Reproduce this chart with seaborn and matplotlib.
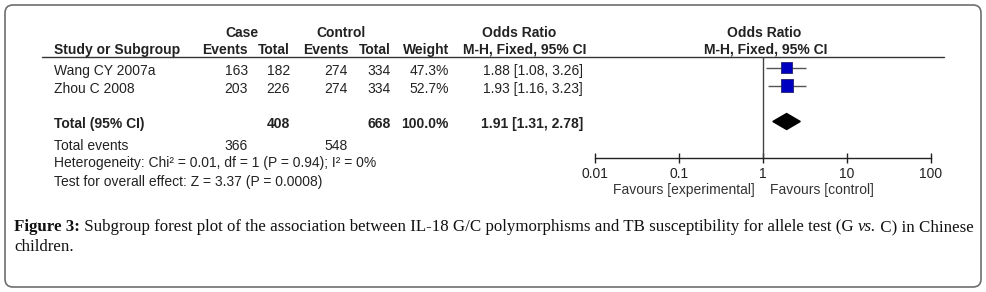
import numpy as np
import pandas as pd
import matplotlib
matplotlib.use('Agg')
import matplotlib.pyplot as plt
from matplotlib.patches import FancyBboxPatch
import seaborn as sns

sns.set_style('white')
plt.rcParams['font.family'] = ['Liberation Sans', 'DejaVu Sans']

# study data
studies = ['Wang CY 2007a', 'Zhou C 2008']
case_events = [163, 203]
case_total = [182, 226]
ctrl_events = [274, 274]
ctrl_total = [334, 334]
weights = [47.3, 52.7]
odds = [1.88, 1.93]
ci_low = [1.08, 1.16]
ci_high = [3.26, 3.23]

# pooled result
total_case = 408
total_ctrl = 668
total_case_events = 366
total_ctrl_events = 548
total_or = 1.91
total_low = 1.31
total_high = 2.78

x_ticks = [0.01, 0.1, 1, 10, 100]
x_tick_labels = ['0.01', '0.1', '1', '10', '100']

W, H = 986, 292
TXT = '#222222'
FS = 10

fig = plt.figure(figsize=(W / 100, H / 100), dpi=100)
bg = fig.add_axes([0, 0, 1, 1])
bg.set_xlim(0, W)
bg.set_ylim(H, 0)
bg.axis('off')

# outer rounded frame
bg.add_patch(FancyBboxPatch((5, 5), 976, 282, boxstyle='round,pad=0,rounding_size=8',
                            fill=False, edgecolor='#6e6e6e', linewidth=1.2))

# header
bg.text(242, 33, 'Case', ha='center', va='center', fontsize=FS, fontweight='bold', color=TXT)
bg.text(341, 33, 'Control', ha='center', va='center', fontsize=FS, fontweight='bold', color=TXT)
bg.text(519, 33, 'Odds Ratio', ha='center', va='center', fontsize=FS, fontweight='bold', color=TXT)
bg.text(764, 33, 'Odds Ratio', ha='center', va='center', fontsize=FS, fontweight='bold', color=TXT)
hdr = [(54, 'Study or Subgroup', 'left'), (248, 'Events', 'right'), (290, 'Total', 'right'),
       (349, 'Events', 'right'), (391, 'Total', 'right'), (449, 'Weight', 'right'),
       (586, 'M-H, Fixed, 95% CI', 'right'), (766, 'M-H, Fixed, 95% CI', 'center')]
for x, s, ha in hdr:
    bg.text(x, 50, s, ha=ha, va='center', fontsize=FS, fontweight='bold', color=TXT)
bg.plot([42, 944], [56.5, 56.5], color='#333333', lw=1)

# study rows
for i, name in enumerate(studies):
    y = 71 + 18 * i
    vals = [(54, name, 'left'), (248, str(case_events[i]), 'right'), (290, str(case_total[i]), 'right'),
            (348, str(ctrl_events[i]), 'right'), (391, str(ctrl_total[i]), 'right'),
            (449, f'{weights[i]:.1f}%', 'right'),
            (583, f'{odds[i]:.2f} [{ci_low[i]:.2f}, {ci_high[i]:.2f}]', 'right')]
    for x, s, ha in vals:
        bg.text(x, y, s, ha=ha, va='center', fontsize=FS, color=TXT)

# total row
tot = [(54, 'Total (95% CI)', 'left'), (290, str(total_case), 'right'), (391, str(total_ctrl), 'right'),
       (449, f'{sum(weights):.1f}%', 'right'),
       (583, f'{total_or:.2f} [{total_low:.2f}, {total_high:.2f}]', 'right')]
for x, s, ha in tot:
    bg.text(x, 124, s, ha=ha, va='center', fontsize=FS, fontweight='bold', color=TXT)

bg.text(54, 146, 'Total events', ha='left', va='center', fontsize=FS, color=TXT)
bg.text(248, 146, str(total_case_events), ha='right', va='center', fontsize=FS, color=TXT)
bg.text(348, 146, str(total_ctrl_events), ha='right', va='center', fontsize=FS, color=TXT)
bg.text(54, 163, 'Heterogeneity: Chi\u00b2 = 0.01, df = 1 (P = 0.94); I\u00b2 = 0%',
        ha='left', va='center', fontsize=FS, color=TXT)
bg.text(54, 182, 'Test for overall effect: Z = 3.37 (P = 0.0008)',
        ha='left', va='center', fontsize=FS, color=TXT)

bg.text(755, 190, 'Favours [experimental]', ha='right', va='center', fontsize=FS, color='#333333')
bg.text(770, 190, 'Favours [control]', ha='left', va='center', fontsize=FS, color='#333333')

# forest plot
fx = fig.add_axes([595 / W, (H - 158) / H, 336 / W, 101 / H])
fx.set_xscale('log')
fx.set_xlim(0.01, 100)
fx.set_ylim((158 - 67.5) / 18, (57 - 67.5) / 18)
fx.patch.set_alpha(0)

rows = list(range(len(studies)))
df = pd.DataFrame({'or': odds, 'row': rows, 'weight': weights})
fx.axvline(1, color='#444444', lw=1, zorder=1)
fx.hlines(rows, ci_low, ci_high, color='#555555', lw=1, zorder=2)
sns.scatterplot(data=df, x='or', y='row', size='weight', sizes=(63, 75), marker='s',
                color='#0000c0', edgecolor='#202070', linewidth=0.6, legend=False, ax=fx, zorder=3)

total_row = len(studies) + 1
hh = 8 / 18
fx.fill([total_low, total_or, total_high, total_or],
        [total_row, total_row - hh, total_row, total_row + hh], color='black', zorder=3)

for sp in ['top', 'left', 'right']:
    fx.spines[sp].set_visible(False)
fx.spines['bottom'].set_color('#222222')
fx.spines['bottom'].set_linewidth(1)
fx.set_xticks(x_ticks)
fx.set_xticklabels(x_tick_labels, fontsize=FS, color=TXT)
fx.minorticks_off()
fx.tick_params(axis='x', direction='inout', length=7, width=1, color='#222222', pad=3, bottom=True)
fx.set_yticks([])
fx.set_xlabel('')
fx.set_ylabel('')

# caption with mixed styles
serif = ['Liberation Serif', 'DejaVu Serif']
cfs = 12.15
renderer = fig.canvas.get_renderer()
runs = [('Figure 3:', 'bold', 'normal'),
        (' Subgroup forest plot of the association between IL-18 G/C polymorphisms and TB susceptibility for allele test (G ',
         'normal', 'normal'),
        ('vs.', 'normal', 'italic'),
        (' C) in Chinese', 'normal', 'normal')]
x = 14
for s, fw, st in runs:
    t = bg.text(x, 227, s, ha='left', va='center', fontsize=cfs, family=serif,
                fontweight=fw, fontstyle=st, color='#111111')
    bb = t.get_window_extent(renderer=renderer)
    x += bb.width
bg.text(14, 247, 'children.', ha='left', va='center', fontsize=cfs, family=serif, color='#111111')

fig.savefig('out.png', dpi=100)
